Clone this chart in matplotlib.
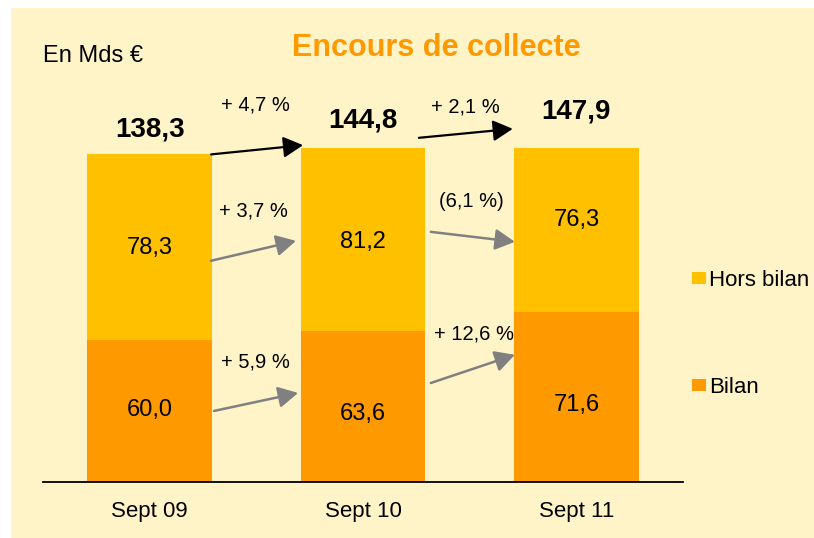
import matplotlib
matplotlib.use('Agg')
from matplotlib import pyplot as plt
from matplotlib.patches import Rectangle

plt.rcParams['font.family'] = ['Liberation Sans', 'DejaVu Sans']

# données (Mds €)
periodes = ['Sept 09', 'Sept 10', 'Sept 11']
bilan = [60.0, 63.6, 71.6]
hors_bilan = [78.3, 81.2, 76.3]
totaux = [138.3, 144.8, 147.9]
evol_total = ['+ 4,7 %', '+ 2,1 %']
evol_hors = ['+ 3,7 %', '(6,1 %)']
evol_bilan = ['+ 5,9 %', '+ 12,6 %']

c_bilan = '#FF9900'
c_hors = '#FFC000'
fond = '#FFF3C8'
gris = '#808080'


def fr(v):  # format français
    return ('%.1f' % v).replace('.', ',')


fig = plt.figure(figsize=(8.14, 5.38), dpi=100)
fig.patches.append(Rectangle((11 / 814, 0), 1, 530 / 538, transform=fig.transFigure,
                             facecolor=fond, edgecolor='none', zorder=-10))

ax = fig.add_axes([43 / 814, 56 / 538, 640 / 814, 334 / 538])
ax.set_facecolor('none')
x = range(len(periodes))
w = 0.585
ax.bar(x, bilan, w, color=c_bilan, label='Bilan')
ax.bar(x, hors_bilan, w, bottom=bilan, color=c_hors, label='Hors bilan')
ax.set_xlim(-0.5, 2.5)
ax.set_ylim(0, 141)

for s in ['top', 'right', 'left']:
    ax.spines[s].set_visible(False)
ax.spines['bottom'].set_linewidth(1.3)
ax.set_yticks([])
ax.set_xticks(list(x))
ax.set_xticklabels(periodes, fontsize=16)
ax.tick_params(axis='x', length=0, pad=14)

# valeurs dans les barres
bilan_dy = [1.3, -2.2, -2.4]
hors_dy = [0.5, -2.0, 1.8]
for i in x:
    ax.text(i, bilan[i] / 2 + bilan_dy[i], fr(bilan[i]), ha='center', va='center_baseline',
            fontsize=17)
    ax.text(i, bilan[i] + hors_bilan[i] / 2 + hors_dy[i], fr(hors_bilan[i]),
            ha='center', va='center_baseline', fontsize=17)

# totaux
total_dy = [7.5, 4.8, 5.5]
for i in x:
    ax.text(i, totaux[i] + total_dy[i], fr(totaux[i]), ha='center', va='baseline',
            fontsize=20, fontweight='bold', clip_on=False)


def fleche(x0, y0, x1, y1, col, lw):
    ax.annotate('', xy=(x1, y1), xytext=(x0, y0), annotation_clip=False,
                arrowprops=dict(arrowstyle='-|>,head_length=0.6,head_width=0.32',
                                mutation_scale=20, color=col, lw=lw,
                                shrinkA=0, shrinkB=0, clip_on=False))


# flèches d'évolution
fleche(0.288, totaux[0], 0.719, totaux[0] + 3.9, 'black', 1.6)
fleche(1.262, totaux[1] + 0.5, 1.702, totaux[1] + 4.3, 'black', 1.6)
fleche(0.288, 93.4, 0.686, 101.8, gris, 1.8)
fleche(1.318, 105.6, 1.712, 101.4, gris, 1.8)
fleche(0.302, 30.0, 0.696, 37.6, gris, 1.8)
fleche(1.318, 41.8, 1.712, 53.7, gris, 1.8)

ax.text(0.498, 160.1, evol_total[0], ha='center', va='center_baseline', fontsize=14.5)
ax.text(1.48, 159.3, evol_total[1], ha='center', va='center_baseline', fontsize=14.5)
ax.text(0.485, 115.3, evol_hors[0], ha='center', va='center_baseline', fontsize=14.5)
ax.text(1.506, 119.1, evol_hors[1], ha='center', va='center_baseline', fontsize=14.5)
ax.text(0.498, 51.5, evol_bilan[0], ha='center', va='center_baseline', fontsize=14.5)
ax.text(1.52, 63.4, evol_bilan[1], ha='center', va='center_baseline', fontsize=14.5)

# titres
fig.text(436 / 814, 1 - 56 / 538, 'Encours de collecte', ha='center', va='baseline',
         fontsize=22, fontweight='bold', color=c_bilan)
fig.text(43 / 814, 1 - 62 / 538, 'En Mds €', ha='left', va='baseline', fontsize=17)

# légende
for lab, col, yc in [('Hors bilan', c_hors, 278), ('Bilan', c_bilan, 385)]:
    fig.patches.append(Rectangle((692 / 814, 1 - (yc + 6) / 538), 14 / 814, 12 / 538,
                                 transform=fig.transFigure, facecolor=col, edgecolor='none'))
    fig.text(709 / 814, 1 - yc / 538, lab, ha='left', va='center_baseline', fontsize=16)

fig.savefig('out.png', dpi=100)
